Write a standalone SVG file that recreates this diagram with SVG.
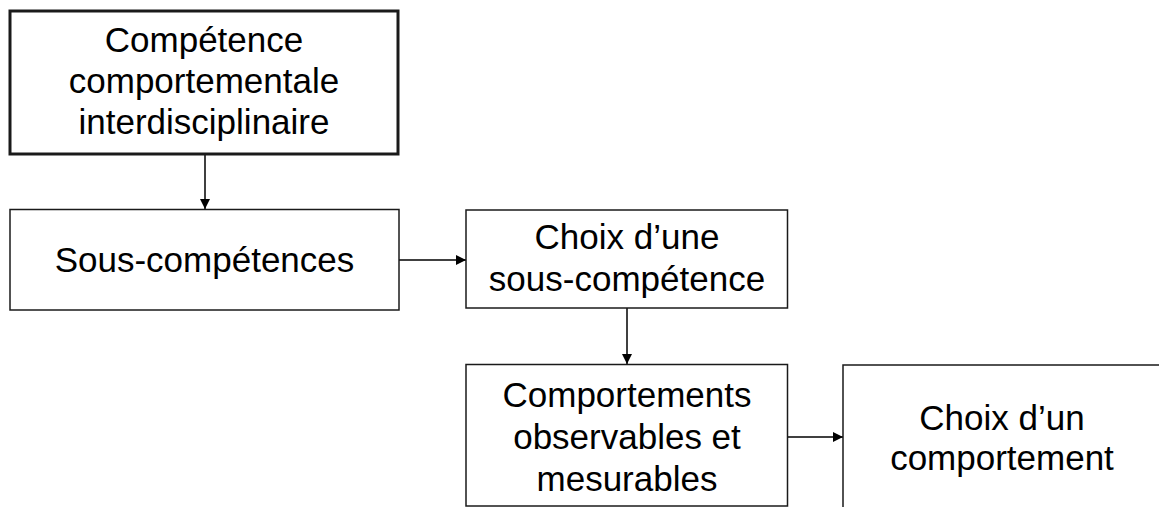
<svg xmlns="http://www.w3.org/2000/svg" width="1159" height="507" viewBox="0 0 1159 507">
<style>
.box{fill:#fff;stroke:#1a1a1a;stroke-width:1.5}
.thick{stroke-width:3}
.t{font-family:"Liberation Sans",Arial,sans-serif;font-size:35px;fill:#000;text-anchor:middle}
.c{stroke:#000;stroke-width:1.5;fill:none;marker-end:url(#ah)}
</style>
<defs>
<marker id="ah" viewBox="0 0 10 10" refX="10" refY="5" markerWidth="10" markerHeight="10" markerUnits="userSpaceOnUse" orient="auto">
<path d="M0,0 L10,5 L0,10 Z" fill="#000"/>
</marker>
</defs>
<rect width="1159" height="507" fill="#fff"/>
<g id="connectors">
<line class="c" x1="205" y1="155" x2="205" y2="209"/>
<line class="c" x1="399" y1="260" x2="466" y2="260"/>
<line class="c" x1="627" y1="308" x2="627" y2="364"/>
<line class="c" x1="788" y1="437" x2="843" y2="437"/>
</g>
<g id="n1">
<rect class="box thick" x="10" y="11" width="388" height="143"/>
<text class="t" x="204" y="52">Compétence</text>
<text class="t" x="204" y="93">comportementale</text>
<text class="t" x="204" y="134">interdisciplinaire</text>
</g>
<g id="n2">
<rect class="box" x="10" y="209.5" width="389" height="100.5"/>
<text class="t" x="204.5" y="272">Sous-compétences</text>
</g>
<g id="n3">
<rect class="box" x="466" y="210" width="321.5" height="98"/>
<text class="t" x="627" y="249">Choix d’une</text>
<text class="t" x="627" y="291">sous-compétence</text>
</g>
<g id="n4">
<rect class="box" x="466" y="364.5" width="321.5" height="141.5"/>
<text class="t" x="627" y="407">Comportements</text>
<text class="t" x="627" y="449">observables et</text>
<text class="t" x="627" y="491">mesurables</text>
</g>
<g id="n5">
<rect class="box" x="843" y="365" width="330" height="160"/>
<text class="t" x="1002" y="430">Choix d’un</text>
<text class="t" x="1002" y="470">comportement</text>
</g>
</svg>
